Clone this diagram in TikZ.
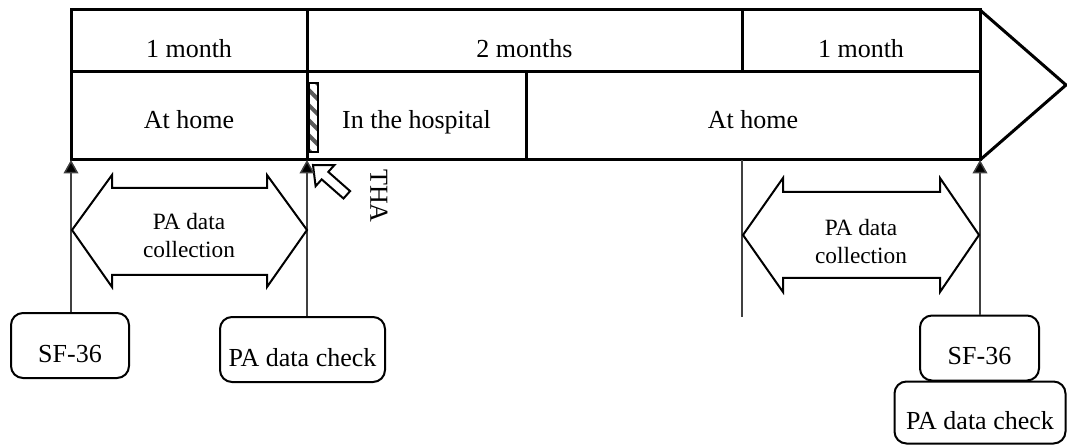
\documentclass[tikz,border=0pt]{standalone}
\usepackage{fontspec}
\setmainfont{Liberation Serif}
\usetikzlibrary{arrows.meta, positioning, patterns.meta}

\tikzset{
  cell/.style={draw, line width=2.25pt, inner sep=0pt, outer sep=0pt, minimum height=46.5pt,
    text height=27pt, text depth=2pt},
  lowcell/.style={cell, minimum height=66pt, text height=21pt, text depth=2pt},
  tagbox/.style={draw, line width=1.5pt, rounded corners=9pt, inner sep=0pt,
    minimum height=48.75pt, text height=25pt, text depth=0pt},
  rise/.style={line width=1.1pt, draw=black!75, -{Triangle[length=10pt,width=11pt,fill=black]}},
  span/.style={line width=1.5pt, line join=miter},
  spantext/.style={align=center, font=\fontsize{17.5}{21}\selectfont}
}

\begin{document}
\begin{tikzpicture}[x=0.75pt, y=-0.75pt, font=\fontsize{19.5}{22}\selectfont]
    \useasboundingbox (0,0) rectangle (1067,445);

    % Time band, upper row
    \node[cell, minimum width=177pt] (mon1) at (189,41) {1 month};
    \node[cell, minimum width=326.25pt] (mon2) at (524.5,41) {2 months};
    \node[cell, minimum width=178.5pt] (mon3) at (861,41) {1 month};

    % Time band, lower row
    \node[lowcell, minimum width=177pt] (home1) at (189,116) {At home};
    \node[lowcell, minimum width=164.25pt] (hosp) at (416.5,116) {In the hospital};
    \node[lowcell, minimum width=340.5pt] (home2) at (753,116) {At home};

    % Arrow tip of the band
    \draw[line width=2.25pt, line join=miter] (mon3.north east) -- (1066,85) -- (home2.south east);

    % Surgery marker
    \draw[line width=1.1pt, pattern={Lines[angle=-45, distance=8pt, line width=3pt]}, pattern color=black!65]
        (309,83) rectangle (318,152);
    \draw[line width=1.5pt, fill=white, line join=miter]
        (313,165) -- (334.4,165.1) -- (328.3,171.9) -- (350.1,191.1) -- (343.5,198.5)
        -- (321.7,179.4) -- (315.6,186.2) -- cycle;
    \node[rotate=-90] (tha) at (379,196) {THA};

    % Points on the time line
    \coordinate (t0) at (71,160);
    \coordinate (t1) at (307,160);
    \coordinate (t2) at (742,160);
    \coordinate (t3) at (980,160);

    % Measurement boxes
    \node[tagbox, minimum width=88.5pt] (sfa) at (70,345.5) {SF-36};
    \node[tagbox, minimum width=123.75pt] (chka) at (302.5,349.5) {PA data check};
    \node[tagbox, minimum width=89.25pt] (sfb) at (979.5,348) {SF-36};
    \node[tagbox, minimum width=128.25pt, minimum height=46.5pt] (chkb) at (980,412.5) {PA data check};

    % Connectors
    \draw[rise] (sfa.north -| t0) -- (t0);
    \draw[rise] (chka.north -| t1) -- (t1);
    \draw[rise] (sfb.north -| t3) -- (t3);
    \draw[line width=1.1pt, draw=black!75] (t2) -- (742,317);

    % PA data collection spans
    \draw[span] (72,230) -- (112,175) -- (112,188) -- (267,188) -- (267,175) -- (307,230)
        -- (267,287) -- (267,275) -- (112,275) -- (112,287) -- cycle;
    \node[spantext] (colla) at (189,236) {PA data\\collection};
    \draw[span] (743,235) -- (783,178) -- (783,192) -- (940,192) -- (940,178) -- (979,235)
        -- (940,292) -- (940,278) -- (783,278) -- (783,292) -- cycle;
    \node[spantext] (collb) at (861,242) {PA data\\collection};
\end{tikzpicture}
\end{document}
